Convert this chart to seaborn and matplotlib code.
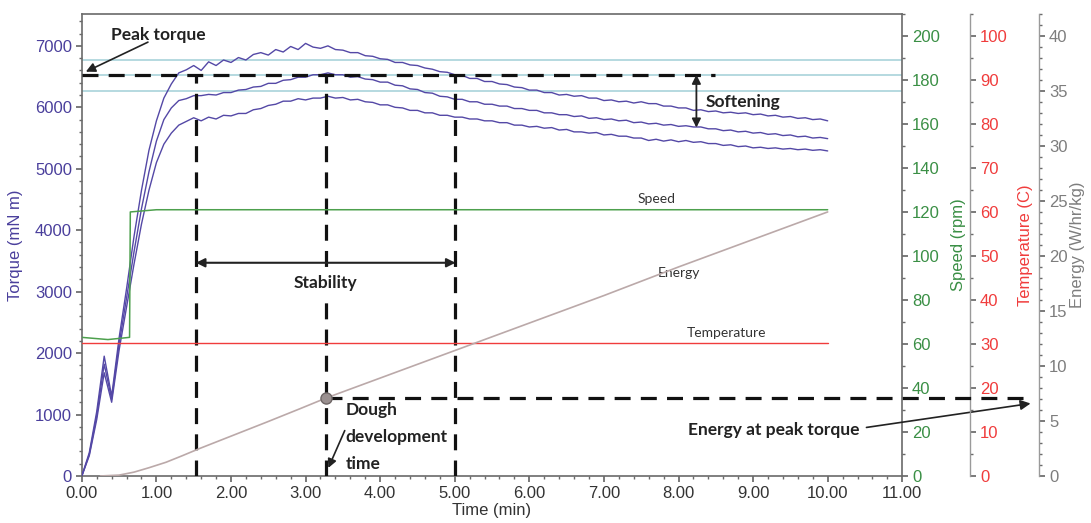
import numpy as np
import pandas as pd
import matplotlib
matplotlib.use("Agg")
import matplotlib.pyplot as plt
import seaborn as sns

# ---------------- data ----------------
time = np.round(np.arange(0, 10.01, 0.1), 2)

torque_high = [0, 380, 1050, 1950, 1300, 2250, 3050, 3900, 4650, 5300,
               5780, 6150, 6380, 6560, 6610, 6680, 6600, 6740, 6680, 6770,
               6730, 6810, 6770, 6860, 6890, 6850, 6940, 6900, 6990, 6940,
               7040, 6980, 6960, 7000, 6940, 6930, 6890, 6890, 6840, 6830,
               6790, 6780, 6730, 6730, 6690, 6680, 6640, 6620, 6580, 6570,
               6530, 6520, 6470, 6470, 6420, 6420, 6380, 6370, 6330, 6320,
               6280, 6280, 6240, 6240, 6200, 6210, 6180, 6190, 6150, 6150,
               6110, 6120, 6090, 6100, 6070, 6090, 6060, 6060, 6020, 6020,
               5990, 5990, 5950, 5960, 5930, 5940, 5910, 5920, 5900, 5910,
               5880, 5890, 5860, 5870, 5840, 5850, 5820, 5830, 5800, 5810,
               5780]
torque_mid = [0, 350, 980, 1820, 1250, 2150, 2900, 3650, 4350, 4950,
              5450, 5800, 5990, 6110, 6140, 6190, 6190, 6210, 6200, 6240,
              6240, 6280, 6290, 6330, 6340, 6390, 6390, 6440, 6450, 6490,
              6490, 6530, 6530, 6560, 6530, 6530, 6490, 6500, 6460, 6450,
              6410, 6410, 6360, 6350, 6300, 6290, 6240, 6230, 6180, 6170,
              6130, 6130, 6090, 6090, 6050, 6050, 6020, 6020, 5980, 5980,
              5950, 5950, 5910, 5910, 5880, 5880, 5850, 5860, 5820, 5830,
              5800, 5810, 5780, 5790, 5750, 5760, 5730, 5740, 5710, 5720,
              5690, 5700, 5680, 5680, 5650, 5650, 5620, 5630, 5600, 5610,
              5580, 5590, 5560, 5570, 5540, 5550, 5520, 5530, 5500, 5510,
              5490]
torque_low = [0, 330, 920, 1680, 1200, 2050, 2750, 3450, 4100, 4650,
              5100, 5400, 5580, 5710, 5770, 5830, 5780, 5840, 5810, 5870,
              5860, 5900, 5900, 5960, 5980, 6030, 6050, 6100, 6100, 6140,
              6120, 6150, 6150, 6180, 6150, 6160, 6120, 6130, 6090, 6080,
              6040, 6040, 6000, 5990, 5950, 5950, 5910, 5910, 5870, 5870,
              5840, 5840, 5810, 5810, 5780, 5780, 5750, 5750, 5710, 5710,
              5680, 5690, 5660, 5670, 5630, 5640, 5600, 5600, 5580, 5590,
              5550, 5560, 5530, 5530, 5500, 5500, 5460, 5480, 5450, 5470,
              5440, 5460, 5430, 5440, 5410, 5410, 5380, 5390, 5360, 5370,
              5340, 5350, 5330, 5340, 5320, 5330, 5310, 5320, 5300, 5310,
              5290]

speed_time = [0.0, 0.35, 0.64, 0.65, 1.0, 10.0]
speed_rpm = [63, 62, 63, 120, 121, 121]

temp_time = [0.0, 10.0]
temp_c = [30.2, 30.2]

energy_time = [0.25, 0.5, 0.7, 0.9, 1.13, 1.35, 1.58, 2.03, 2.48, 2.92,
               3.28, 4.0, 5.0, 6.0, 7.0, 8.0, 9.0, 10.0]
energy_whkg = [0, 0.08, 0.35, 0.75, 1.25, 1.85, 2.5, 3.7, 4.9, 6.1,
               7.1, 8.9, 11.4, 13.9, 16.4, 19.0, 21.5, 24.0]

ref_lines = [6775, 6530, 6270]
peak_torque = 6530
arrival_time = 1.53
ddt_time = 3.28
departure_time = 5.01
softening_low = 5670
energy_at_peak = 7.1

x_ticks = np.arange(0, 11.01, 1.0)
torque_ticks = np.arange(0, 7001, 1000)
speed_ticks = np.arange(0, 201, 20)
temp_ticks = np.arange(0, 101, 10)
energy_ticks = np.arange(0, 41, 5)

# ---------------- style ----------------
sns.set_theme(style="white")
plt.rcParams['font.family'] = ['Liberation Sans', 'DejaVu Sans']

PURPLE = '#5448a6'
PURPLE_LBL = '#4a3f9c'
GREEN = '#3a8f45'
RED = '#f03c3c'
GRAY = '#7d7d7d'
ENERGY_C = '#bba9a9'
SPINE = '#6a6a6a'
ANN = ['Lato', 'Open Sans', 'DejaVu Sans']

fig = plt.figure(figsize=(10.91, 5.23), dpi=100)
ax = fig.add_axes([0.075, 0.0899, 0.752, 0.8835])

# reference light lines
for v in ref_lines:
    ax.axhline(v, color='#a9d3da', lw=1.2, zorder=1)

df = pd.DataFrame({'time': time, 'high': torque_high, 'mid': torque_mid, 'low': torque_low})
for col in ['high', 'mid', 'low']:
    sns.lineplot(data=df, x='time', y=col, ax=ax, color=PURPLE, lw=1.0,
                 estimator=None, zorder=3)

ax.set_xlim(0, 11)
ax.set_ylim(0, 7520)
ax.set_xticks(x_ticks)
ax.set_xticklabels([f"{v:.2f}" for v in x_ticks])
ax.set_yticks(torque_ticks)
ax.set_xticks(np.arange(0, 11.01, 0.2), minor=True)
ax.set_yticks(np.arange(0, 7501, 200), minor=True)
ax.tick_params(axis='x', which='major', direction='out', length=4, colors=SPINE,
               labelsize=12, labelcolor='#333333', pad=3)
ax.tick_params(axis='y', which='major', direction='out', length=4, colors=SPINE,
               labelsize=12, labelcolor=PURPLE_LBL, pad=3)
ax.tick_params(which='minor', direction='out', length=2.5, colors=SPINE, bottom=True, left=True)
ax.tick_params(which='major', bottom=True, left=True)
ax.set_xlabel('Time (min)', fontsize=12, color='#333333', labelpad=2)
ax.set_ylabel('Torque (mN m)', fontsize=12, color=PURPLE_LBL)
ax.yaxis.set_label_coords(-0.072, 0.5)
for s in ax.spines.values():
    s.set_color(SPINE)
    s.set_linewidth(1.2)

# speed axis
ax_s = ax.twinx()
sns.lineplot(x=speed_time, y=speed_rpm, ax=ax_s, color='#4da04d', lw=1.1, estimator=None)
ax_s.set_ylim(0, 210)
ax_s.set_yticks(speed_ticks)
ax_s.set_yticks(np.arange(0, 211, 10), minor=True)
ax_s.set_ylabel('Speed (rpm)', fontsize=12, color=GREEN)
ax_s.yaxis.set_label_coords(1.059, 0.5)

# temperature axis
ax_t = ax.twinx()
ax_t.spines['right'].set_position(('axes', 1.083))
sns.lineplot(x=temp_time, y=temp_c, ax=ax_t, color=RED, lw=1.0, estimator=None)
ax_t.set_ylim(0, 105)
ax_t.set_yticks(temp_ticks)
ax_t.set_yticks(np.arange(0, 106, 5), minor=True)
ax_t.set_ylabel('Temperature (C)', fontsize=12, color=RED)
ax_t.yaxis.set_label_coords(1.141, 0.5)

# energy axis
ax_e = ax.twinx()
ax_e.spines['right'].set_position(('axes', 1.167))
sns.lineplot(x=energy_time, y=energy_whkg, ax=ax_e, color=ENERGY_C, lw=1.2, estimator=None)
ax_e.set_ylim(0, 42)
ax_e.set_yticks(energy_ticks)
ax_e.set_yticks(np.arange(0, 43, 1), minor=True)
ax_e.set_ylabel('Energy (W/hr/kg)', fontsize=12, color=GRAY)
ax_e.yaxis.set_label_coords(1.205, 0.5)

for a, c in [(ax_s, GREEN), (ax_t, RED), (ax_e, GRAY)]:
    a.set_xlim(0, 11)
    a.tick_params(axis='y', which='major', direction='out', length=4, colors=SPINE,
                  labelsize=12, labelcolor=c, pad=3, right=True)
    a.tick_params(axis='y', which='minor', direction='out', length=2.5, colors=SPINE, right=True)
    for side in ['top', 'left', 'bottom']:
        a.spines[side].set_visible(False)
    a.spines['right'].set_color(SPINE if a is ax_s else '#9a9a9a')
    a.spines['right'].set_linewidth(1.2 if a is ax_s else 1.0)
    a.grid(False)
ax_s.spines['right'].set_visible(False)

# ---------------- annotations ----------------
dash_kw = dict(color='#111111', lw=2.3, dashes=(5, 3.2))
ax.plot([0, 8.49], [peak_torque, peak_torque], zorder=5, **dash_kw)
for xv in [arrival_time, ddt_time, departure_time]:
    ax.plot([xv, xv], [0, peak_torque], zorder=5, **dash_kw)

ax.text(1.02, 7180, 'Peak torque', fontsize=12.5, fontweight='bold', family=ANN,
        ha='center', va='center', color='#222222', zorder=7)
ax.annotate('', xy=(0.02, 6560), xytext=(0.92, 7080),
            arrowprops=dict(arrowstyle='-|>', color='#222222', lw=1.2, mutation_scale=14), zorder=7)

ax.annotate('', xy=(arrival_time, 3470), xytext=(departure_time, 3470),
            arrowprops=dict(arrowstyle='<|-|>', color='#222222', lw=1.5, mutation_scale=13,
                            shrinkA=0, shrinkB=0), zorder=6)
ax.text(3.26, 3140, 'Stability', fontsize=12.5, fontweight='bold', family=ANN,
        ha='center', va='center', color='#222222', zorder=7,
        bbox=dict(facecolor='white', edgecolor='none', pad=4))

ax.annotate('', xy=(8.24, peak_torque), xytext=(8.24, softening_low),
            arrowprops=dict(arrowstyle='<|-|>', color='#222222', lw=1.3, mutation_scale=13,
                            shrinkA=0, shrinkB=0), zorder=6)
ax.text(8.36, 6090, 'Softening', fontsize=12.5, fontweight='bold', family=ANN,
        ha='left', va='center', color='#222222', zorder=7)

ax.text(3.54, 1210, 'Dough\ndevelopment\ntime', fontsize=12.5, fontweight='bold', family=ANN,
        ha='left', va='top', color='#222222', linespacing=1.85, zorder=7)
ax.annotate('', xy=(3.29, 90), xytext=(3.54, 780),
            arrowprops=dict(arrowstyle='-|>', color='#222222', lw=1.2, mutation_scale=13), zorder=7)

# energy at peak torque
ax_e.plot([ddt_time, 12.72], [energy_at_peak, energy_at_peak], clip_on=False, zorder=5, **dash_kw)
ax_e.plot([ddt_time], [energy_at_peak], marker='o', ms=8, color='#9a9090',
          mec='#6e6666', mew=1.0, zorder=8)
ax.text(9.28, 750, 'Energy at peak torque', fontsize=12.5, fontweight='bold', family=ANN,
        ha='center', va='center', color='#222222', zorder=7)
ax.annotate('', xy=(12.72, 1180), xytext=(10.52, 790), annotation_clip=False,
            arrowprops=dict(arrowstyle='-|>', color='#222222', lw=1.2, mutation_scale=15,
                            shrinkA=0, shrinkB=0), zorder=7)

# curve labels
ax.text(7.7, 4500, 'Speed', fontsize=10, family=ANN, ha='center', va='center', color='#333333')
ax.text(8.0, 3300, 'Energy', fontsize=10, family=ANN, ha='center', va='center', color='#333333')
ax.text(8.65, 2330, 'Temperature', fontsize=10, family=ANN, ha='center', va='center', color='#333333')

fig.savefig('out.png', dpi=100, facecolor='white')
